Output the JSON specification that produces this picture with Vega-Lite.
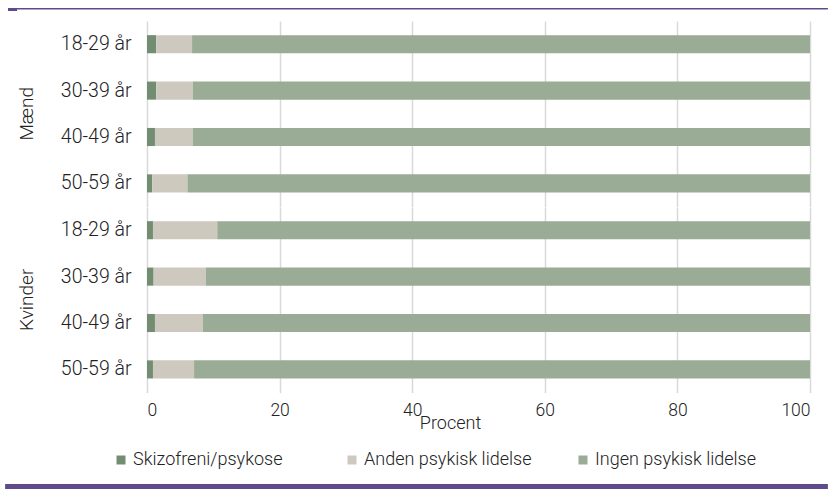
{
  "$schema": "https://vega.github.io/schema/vega-lite/v6.json",
  "padding": {"left": 5, "top": 8, "right": 0, "bottom": 0},
  "background": "white",
  "config": {
    "font": "Roboto",
    "view": {"stroke": null},
    "axis": {"labelFontSize": 18, "labelFontWeight": 300, "labelColor": "#222222", "titleFontSize": 18, "titleFontWeight": 300, "titleColor": "#222222"},
    "header": {"labelFontSize": 19, "labelFontWeight": 300, "labelColor": "#222222"},
    "legend": {"labelFontSize": 18, "labelFontWeight": 300, "labelColor": "#222222"},
    "concat": {"spacing": 10}
  },
  "resolve": {"legend": {"color": "independent"}},
  "vconcat": [
    {
      "data": {"values": [
        {"x1": -20.96, "x2": 102.7, "y1": 0, "y2": 1},
        {"x1": -20.96, "x2": -19.6, "y1": -1, "y2": 1}
      ]},
      "width": 663,
      "height": 1.5,
      "mark": {"type": "rect", "color": "#5f4b8b"},
      "encoding": {
        "x": {"field": "x1", "type": "quantitative", "scale": {"domain": [0, 100], "nice": false, "zero": false}, "axis": null},
        "x2": {"field": "x2"},
        "y": {"field": "y1", "type": "quantitative", "scale": {"domain": [0, 1], "nice": false, "zero": false}, "axis": null},
        "y2": {"field": "y2"}
      }
    },
    {
      "data": {"values": [
        {"group": "Mænd", "age": "18-29 år", "cat": "Skizofreni/psykose", "ord": 1, "value": 1.4},
        {"group": "Mænd", "age": "18-29 år", "cat": "Anden psykisk lidelse", "ord": 2, "value": 5.4},
        {"group": "Mænd", "age": "18-29 år", "cat": "Ingen psykisk lidelse", "ord": 3, "value": 93.2},
        {"group": "Mænd", "age": "30-39 år", "cat": "Skizofreni/psykose", "ord": 1, "value": 1.4},
        {"group": "Mænd", "age": "30-39 år", "cat": "Anden psykisk lidelse", "ord": 2, "value": 5.5},
        {"group": "Mænd", "age": "30-39 år", "cat": "Ingen psykisk lidelse", "ord": 3, "value": 93.1},
        {"group": "Mænd", "age": "40-49 år", "cat": "Skizofreni/psykose", "ord": 1, "value": 1.2},
        {"group": "Mænd", "age": "40-49 år", "cat": "Anden psykisk lidelse", "ord": 2, "value": 5.7},
        {"group": "Mænd", "age": "40-49 år", "cat": "Ingen psykisk lidelse", "ord": 3, "value": 93.1},
        {"group": "Mænd", "age": "50-59 år", "cat": "Skizofreni/psykose", "ord": 1, "value": 0.8},
        {"group": "Mænd", "age": "50-59 år", "cat": "Anden psykisk lidelse", "ord": 2, "value": 5.3},
        {"group": "Mænd", "age": "50-59 år", "cat": "Ingen psykisk lidelse", "ord": 3, "value": 93.9},
        {"group": "Kvinder", "age": "18-29 år", "cat": "Skizofreni/psykose", "ord": 1, "value": 0.9},
        {"group": "Kvinder", "age": "18-29 år", "cat": "Anden psykisk lidelse", "ord": 2, "value": 9.7},
        {"group": "Kvinder", "age": "18-29 år", "cat": "Ingen psykisk lidelse", "ord": 3, "value": 89.4},
        {"group": "Kvinder", "age": "30-39 år", "cat": "Skizofreni/psykose", "ord": 1, "value": 1.0},
        {"group": "Kvinder", "age": "30-39 år", "cat": "Anden psykisk lidelse", "ord": 2, "value": 7.9},
        {"group": "Kvinder", "age": "30-39 år", "cat": "Ingen psykisk lidelse", "ord": 3, "value": 91.1},
        {"group": "Kvinder", "age": "40-49 år", "cat": "Skizofreni/psykose", "ord": 1, "value": 1.2},
        {"group": "Kvinder", "age": "40-49 år", "cat": "Anden psykisk lidelse", "ord": 2, "value": 7.2},
        {"group": "Kvinder", "age": "40-49 år", "cat": "Ingen psykisk lidelse", "ord": 3, "value": 91.6},
        {"group": "Kvinder", "age": "50-59 år", "cat": "Skizofreni/psykose", "ord": 1, "value": 0.9},
        {"group": "Kvinder", "age": "50-59 år", "cat": "Anden psykisk lidelse", "ord": 2, "value": 6.2},
        {"group": "Kvinder", "age": "50-59 år", "cat": "Ingen psykisk lidelse", "ord": 3, "value": 92.9}
      ]},
      "facet": {
        "row": {
          "field": "group", "type": "nominal", "sort": ["Mænd", "Kvinder"],
          "header": {"title": null, "labelAngle": -90, "labelOrient": "left", "labelPadding": 14}
        }
      },
      "spacing": {"row": 0},
      "spec": {
        "width": 663,
        "height": 185.6,
        "mark": {"type": "bar"},
        "encoding": {
          "y": {
            "field": "age", "type": "nominal", "sort": ["18-29 år", "30-39 år", "40-49 år", "50-59 år"],
            "scale": {"paddingInner": 0.61, "paddingOuter": 0.305},
            "axis": {"title": null, "domain": false, "ticks": false, "labelPadding": 16, "labelFontSize": 19.5}
          },
          "x": {
            "field": "value", "type": "quantitative", "stack": "zero",
            "scale": {"domain": [0, 100], "nice": false},
            "axis": {"title": "Procent", "values": [0, 20, 40, 60, 80, 100], "domain": false, "ticks": false, "grid": true, "gridColor": "#d9d9d9", "gridWidth": 1.5, "labelPadding": 8, "labelFontSize": 17.5, "titleX": 303, "titleY": 21}
          },
          "color": {
            "field": "cat", "type": "nominal",
            "sort": ["Skizofreni/psykose", "Anden psykisk lidelse", "Ingen psykisk lidelse"],
            "scale": {"domain": ["Skizofreni/psykose", "Anden psykisk lidelse", "Ingen psykisk lidelse"], "range": ["#728d72", "#cec9be", "#9aab96"]},
            "legend": {"title": null, "orient": "none", "legendX": -35, "legendY": 430, "direction": "horizontal", "symbolType": "square", "symbolSize": 81, "symbolStrokeWidth": 0, "gridAlign": "all", "columnPadding": 42, "labelOffset": 3, "labelLimit": 0}
          },
          "order": {"field": "ord", "type": "quantitative"}
        }
      }
    },
    {
      "data": {"values": [{"x1": -21.4, "x2": 102.7, "y1": 0, "y2": 0.5}]},
      "width": 663,
      "height": 10,
      "mark": {"type": "rect", "color": "#5f4b8b"},
      "encoding": {
        "x": {"field": "x1", "type": "quantitative", "scale": {"domain": [0, 100], "nice": false, "zero": false}, "axis": null},
        "x2": {"field": "x2"},
        "y": {"field": "y1", "type": "quantitative", "scale": {"domain": [0, 1], "nice": false, "zero": false}, "axis": null},
        "y2": {"field": "y2"}
      }
    }
  ]
}
